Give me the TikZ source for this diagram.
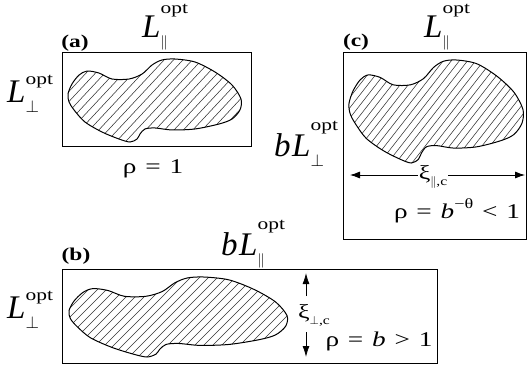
\documentclass[tikz,border=0pt]{standalone}
\usepackage{fontspec}
\usepackage{amsmath}
\setmainfont{Liberation Serif}[FakeStretch=1.3]
\newfontfamily\Lfont{Liberation Serif}
\usetikzlibrary{arrows.meta}
\tikzset{
  panel/.style={draw, line width=1pt},
  blobline/.style={draw, line width=1pt},
  hatch/.style={draw=black!80, line width=0.55pt},
  biglabel/.style={font=\Lfont\fontsize{33}{36}\selectfont, inner sep=0pt, anchor=base west},
  rholabel/.style={font=\fontsize{21}{25}\selectfont, inner sep=0pt},
  xilabel/.style={font=\fontsize{20}{24}\selectfont, inner sep=1pt},
  tag/.style={font=\bfseries\fontsize{18}{20}\selectfont, inner sep=0pt},
  dimtip/.style={line width=0.8pt},
}
\newcommand{\supfont}{\rmfamily\fontsize{16.5}{17}\selectfont}
\newcommand{\parsub}{\raisebox{-9pt}{\fontsize{14}{14}\selectfont$\|$}}
\newcommand{\perpsub}{\raisebox{-10pt}{\fontsize{18}{18}\selectfont$\perp$}}
\newcommand{\gap}{\hspace{0.42em}}
% L^opt: #1 raise of "opt", #2 prefix, #3 subscript
\newcommand{\Lopt}[3]{#2\textit{L}\rlap{#3}\raisebox{#1}{\supfont opt}}
\newcommand{\blobplot}{plot[smooth cycle] coordinates {
  (0,0.422) (0.023,0.301) (0.064,0.193) (0.110,0.145) (0.179,0.169)
  (0.254,0.241) (0.353,0.241) (0.428,0.181) (0.486,0.072) (0.543,0.012)
  (0.618,0) (0.734,0.036) (0.850,0.157) (0.948,0.313) (1,0.482)
  (0.994,0.614) (0.948,0.723) (0.873,0.783) (0.734,0.843) (0.601,0.855)
  (0.503,0.831) (0.445,0.843) (0.416,0.904) (0.399,0.964) (0.358,1)
  (0.295,0.964) (0.197,0.880) (0.098,0.759) (0.035,0.614) (0.006,0.518)}}
% #1,#2 corner, #3 width, #4 height, #5 hatch angle, #6 horizontal spacing
\newcommand{\hatchedblob}[6]{%
  \begin{scope}
    \clip[shift={(#1,#2)}, xscale=#3, yscale=#4] \blobplot;
    \foreach \i in {-30,...,30}
      \draw[hatch] (#1+0.5*#3+\i*#6, #2+0.5*#4) ++(#5:-120pt) -- ++(#5:240pt);
  \end{scope}
  \draw[blobline, shift={(#1,#2)}, xscale=#3, yscale=#4] \blobplot;}

\begin{document}
\begin{tikzpicture}[x=1pt, y=-1pt]
\useasboundingbox (0,0) rectangle (528,370);
% panel (a)
\draw[panel] (62,52) rectangle (251,146);
\hatchedblob{68}{59}{173}{83}{47}{9.4}
\node[tag] (taga) at (75,43) {(a)};
\node[biglabel] (Lpara) at (142,37) {\Lopt{0.72em}{}{\parsub}};
\node[biglabel] (Lperpa) at (7,102) {\Lopt{0.52em}{}{\perpsub}};
\node[rholabel] (rhoa) at (153,169) {ρ\gap=\gap1};
% panel (c)
\draw[panel] (343,52) rectangle (526.5,239);
\hatchedblob{349}{60}{174}{103}{52}{8.1}
\node[tag] (tagc) at (356,42) {(c)};
\node[biglabel] (Lparc) at (424,37) {\Lopt{0.72em}{}{\parsub}};
\node[biglabel] (bLperpc) at (274,156) {\Lopt{0.78em}{\textit{b}\kern1.5pt}{\perpsub}};
\coordinate (xileft) at (350,175);
\coordinate (xiright) at (525,175);
\draw[dimtip, {Latex[length=10pt,width=7pt]}-{Latex[length=10pt,width=7pt]}] (xileft) -- (xiright);
\node[xilabel, fill=white] (xipar) at (433,177) {ξ\raisebox{-0.3em}{\fontsize{12}{12}\selectfont$\|$,c}};
\node[rholabel] (rhoc) at (457,211) {ρ\gap=\gap\textit{b}\raisebox{0.5em}{\fontsize{14}{14}\selectfont −θ}\gap<\gap1};
% panel (b)
\draw[panel] (62,269) rectangle (437,363);
\hatchedblob{69}{277}{218}{80}{45}{9}
\node[tag] (tagb) at (76,256) {(b)};
\node[biglabel] (bLparb) at (221,255) {\Lopt{0.78em}{\textit{b}\kern1.5pt}{\parsub}};
\node[biglabel] (Lperpb) at (7,318) {\Lopt{0.52em}{}{\perpsub}};
\node[xilabel] (xiperp) at (314,315) {ξ\raisebox{-0.3em}{\fontsize{12}{12}\selectfont$\perp$,c}};
\coordinate (perpupfrom) at (306,296);
\coordinate (perpup) at (306,273);
\coordinate (perpdownfrom) at (306,332);
\coordinate (perpdown) at (306,357);
\draw[dimtip, -{Latex[length=11pt,width=7pt]}] (perpupfrom) -- (perpup);
\draw[dimtip, -{Latex[length=11pt,width=7pt]}] (perpdownfrom) -- (perpdown);
\node[rholabel] (rhob) at (379,341) {ρ\gap=\gap\textit{b}\gap>\gap1};
\end{tikzpicture}
\end{document}
